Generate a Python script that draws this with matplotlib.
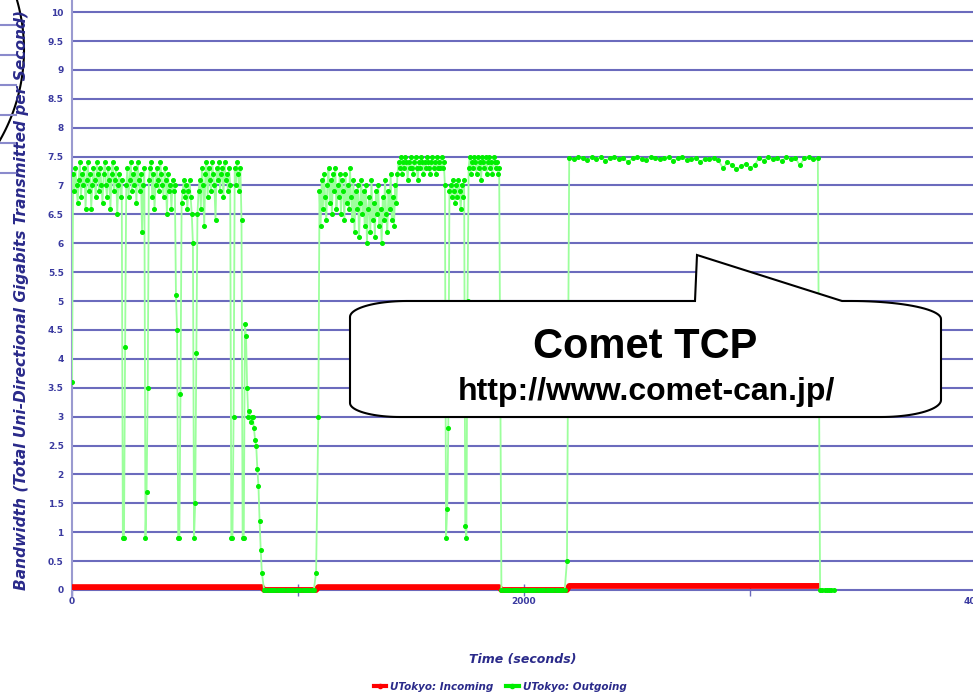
import numpy as np
import matplotlib
matplotlib.use('Agg')
import matplotlib.pyplot as plt
from matplotlib.patches import Polygon
from matplotlib.lines import Line2D

# outgoing bandwidth (Gb/s); seg1/seg2 every 5 s, gaps every 10 s, seg3 every 20 s
seg1 = [3.6, 7.2, 6.9, 7.3, 7.0, 6.7, 7.1, 7.4, 6.8, 7.2,
        7.0, 7.3, 6.6, 7.1, 7.4, 6.9, 7.2, 6.6, 7.0, 7.3,
        7.1, 6.8, 7.4, 7.2, 6.9, 7.3, 7.0, 6.7, 7.2, 7.4,
        7.0, 6.8, 7.3, 7.1, 6.6, 7.2, 7.4, 6.9, 7.1, 7.3,
        6.5, 7.0, 7.2, 6.8, 7.1, 0.9, 0.9, 4.2, 7.0, 7.3,
        6.8, 7.1, 7.4, 6.9, 7.2, 7.0, 7.3, 6.7, 7.4, 7.1,
        6.9, 7.2, 6.2, 7.0, 7.3, 0.9, 1.7, 3.5, 7.1, 7.3,
        7.4, 6.8, 7.2, 6.6, 7.0, 7.3, 7.1, 6.9, 7.4, 7.2,
        7.0, 6.8, 7.3, 7.1, 6.5, 7.2, 6.9, 7.0, 6.6, 7.1,
        6.9, 7.0, 5.1, 4.5, 0.9, 0.9, 3.4, 6.7, 6.9, 7.1,
        6.8, 7.0, 6.6, 6.9, 7.1, 6.8, 6.5, 6.0, 0.9, 1.5,
        4.1, 6.5, 6.9, 7.1, 6.6, 7.3, 7.0, 6.3, 7.2, 7.4,
        6.8, 7.3, 7.1, 6.9, 7.4, 7.2, 7.0, 6.4, 7.3, 7.1,
        7.4, 6.9, 7.2, 7.3, 6.8, 7.4, 7.1, 7.2, 6.9, 7.3,
        7.0, 0.9, 0.9, 3.0, 7.3, 7.0, 7.4, 7.2, 6.9, 7.3,
        6.4, 0.9, 0.9, 4.6, 4.4, 3.5, 3.0, 3.1, 2.9, 3.0,
        3.0, 2.8, 2.6, 2.5, 2.1, 1.8, 1.2, 0.7, 0.3]
gap1 = [0.0, 0.0, 0.0, 0.0, 0.0, 0.0, 0.0, 0.0, 0.0, 0.0, 0.0, 0.0,
        0.0, 0.0, 0.0, 0.0, 0.0, 0.0, 0.0, 0.0, 0.0, 0.0, 0.0, 0.3]
seg2 = [3.0, 6.9, 6.3, 7.1, 6.6, 7.2, 6.8, 6.4, 7.0, 7.3,
        6.7, 7.1, 6.5, 7.2, 6.9, 7.3, 6.6, 7.0, 6.8, 7.2,
        6.5, 7.1, 6.9, 6.4, 7.2, 6.7, 7.0, 6.6, 7.3, 6.8,
        6.4, 7.1, 6.2, 6.9, 6.6, 7.0, 6.1, 6.7, 7.1, 6.5,
        6.9, 6.3, 7.0, 6.0, 6.6, 6.8, 6.2, 7.1, 6.4, 6.7,
        6.1, 6.9, 6.5, 7.0, 6.3, 6.6, 6.0, 6.8, 6.4, 7.1,
        6.5, 6.2, 6.9, 6.6, 7.2, 6.4, 6.8, 6.3, 7.0, 6.7,
        7.2, 7.4, 7.3, 7.5, 7.2, 7.4, 7.3, 7.5, 7.4, 7.1,
        7.4, 7.3, 7.5, 7.3, 7.2, 7.4, 7.5, 7.3, 7.1, 7.4,
        7.3, 7.5, 7.4, 7.2, 7.4, 7.3, 7.5, 7.4, 7.3, 7.2,
        7.4, 7.5, 7.3, 7.4, 7.2, 7.5, 7.3, 7.4, 7.3, 7.5,
        7.3, 7.4, 7.0, 0.9, 1.4, 2.8, 6.9, 7.0, 6.8, 7.1,
        6.9, 6.7, 7.0, 6.8, 7.1, 6.9, 6.6, 7.0, 6.8, 7.1,
        1.1, 0.9, 5.0, 7.3, 7.5, 7.2, 7.4, 7.3, 7.5, 7.4,
        7.2, 7.5, 7.3, 7.4, 7.1, 7.5, 7.4, 7.3, 7.5, 7.2,
        7.4, 7.5, 7.3, 7.4, 7.2, 7.5, 7.4, 7.3, 7.4, 7.2,
        7.3]
gap2 = [0.0, 0.0, 0.0, 0.0, 0.0, 0.0, 0.0, 0.0, 0.0, 0.0,
        0.0, 0.0, 0.0, 0.0, 0.0, 0.0, 0.0, 0.0, 0.0, 0.0,
        0.0, 0.0, 0.0, 0.0, 0.0, 0.0, 0.0, 0.0, 0.0, 0.5]
seg3 = [7.48, 7.45, 7.5, 7.47, 7.44, 7.49, 7.46, 7.5, 7.43, 7.47,
        7.49, 7.45, 7.48, 7.4, 7.47, 7.5, 7.46, 7.44, 7.49, 7.47,
        7.45, 7.48, 7.5, 7.42, 7.47, 7.49, 7.44, 7.46, 7.48, 7.41,
        7.46, 7.45, 7.47, 7.44, 7.3, 7.4, 7.36, 7.28, 7.33, 7.38,
        7.3, 7.35, 7.48, 7.43, 7.5, 7.45, 7.47, 7.42, 7.49, 7.46,
        7.48, 7.35, 7.47, 7.5, 7.45, 7.48]
tail = [0.0, 0.0, 0.0, 0.0, 0.0, 0.0, 0.0]

seg_start = [0, 850, 1090, 1900, 2200, 3310]
seg_step = [5, 10, 5, 10, 20, 10]
out_segs = [seg1, gap1, seg2, gap2, seg3, tail]

# incoming bandwidth
in_t = [0, 840, 850, 1080, 1090, 1890, 1900, 2190, 2200, 3310]
in_v = [0.05, 0.05, 0.0, 0.0, 0.05, 0.05, 0.0, 0.0, 0.07, 0.07]

out_t = np.concatenate([s + d * np.arange(len(v)) for s, d, v in zip(seg_start, seg_step, out_segs)])
out_v = np.concatenate(out_segs)

W, H = 973, 696
def fx(px): return px / W
def fy(py): return 1 - py / H

blue = '#6b6bbd'
txtblue = '#3a3aa0'

fig = plt.figure(figsize=(9.73, 6.96), dpi=100)
ax = fig.add_axes([fx(72), fy(596), (978.3 - 72) / W, 596 / H])
ax.set_xlim(0, 4010)
ax.set_ylim(-0.104, 10.21)

ax.plot(in_t, in_v, color='#ff0000', lw=4.2, solid_capstyle='butt', zorder=3)
ax.plot(out_t, out_v, color='#9cff9c', lw=1.3, zorder=4)
ax.plot(out_t, out_v, ls='none', marker='o', ms=2.6, mfc='#00ee00', mec='#00ee00', zorder=5)

for s in ['top', 'right', 'bottom']:
    ax.spines[s].set_visible(False)
ax.spines['left'].set_color('#9a9ad0')
ax.spines['left'].set_linewidth(1.5)

ax.set_yticks(np.arange(0, 10.01, 0.5))
ax.set_yticklabels(['0', '0.5', '1', '1.5', '2', '2.5', '3', '3.5', '4', '4.5', '5', '5.5',
                    '6', '6.5', '7', '7.5', '8', '8.5', '9', '9.5', '10'])
ax.tick_params(axis='y', length=0, pad=6, labelsize=6.5, labelcolor=txtblue)
ax.grid(axis='y', color=blue, lw=1.5, zorder=1)
ax.set_axisbelow(True)

ax.set_xticks([0, 1000, 2000, 3000, 4000])
ax.set_xticklabels(['0', '', '2000', '', '4000'])
ax.tick_params(axis='x', direction='in', length=9, width=1, color=blue, pad=1,
               labelsize=6.5, labelcolor=txtblue)
for lab in ax.get_xticklabels() + ax.get_yticklabels():
    lab.set_fontweight('bold')

fig.text(fx(22), fy(590), 'Bandwidth (Total Uni-Directional Gigabits Transmitted per Second)',
         rotation=90, ha='center', va='bottom', fontsize=11.1, fontweight='bold',
         fontstyle='italic', color='#2a2a8a')
fig.text(fx(523), fy(660), 'Time (seconds)', ha='center', va='center', fontsize=9,
         fontweight='bold', fontstyle='italic', color='#2a2a8a')

handles = [Line2D([], [], color='#ff0000', lw=3, marker='o', ms=3),
           Line2D([], [], color='#00ee00', lw=3, marker='o', ms=3)]
fig.legend(handles, ['UTokyo: Incoming', 'UTokyo: Outgoing'], loc='center',
           bbox_to_anchor=(fx(500), fy(687)), ncol=2, frameon=False, handlelength=1.2,
           handletextpad=0.4, columnspacing=1.2,
           prop={'size': 7.5, 'weight': 'bold', 'style': 'italic'}, labelcolor='#2a2a8a')

# callout bubble
def arc(cx, cy, rx, ry, a0, a1, n=24):
    a = np.radians(np.linspace(a0, a1, n))
    return list(zip(cx + rx * np.cos(a), cy - ry * np.sin(a)))

pts = [(695, 301), (697, 255), (842, 301)]
pts += arc(851, 319, 90, 18, 90, 0)
pts += arc(881, 400, 60, 17, 0, -90)
pts += arc(400, 403, 50, 14, -90, -180)
pts += arc(407, 317, 57, 16, 180, 90)
pts = [(fx(x), fy(y)) for x, y in pts]
fig.add_artist(Polygon(pts, closed=True, facecolor='white', edgecolor='black', lw=1.5,
                       transform=fig.transFigure, zorder=10))
fig.text(fx(645), fy(358), 'Comet TCP', ha='center', va='baseline', fontsize=30,
         fontweight='bold', family='Liberation Sans', zorder=11)
fig.text(fx(646), fy(400), 'http://www.comet-can.jp/', ha='center', va='baseline', fontsize=23,
         fontweight='bold', family='Liberation Sans', zorder=11)

# slide decoration at top left
a = np.radians(np.linspace(-40, 20, 60))
cx, cy, r = -157, 50, 181
fig.add_artist(Line2D(fx(cx + r * np.cos(a)), fy(cy - r * np.sin(a)), color='black', lw=1.5,
                      transform=fig.transFigure))
for py in [25, 55, 85, 115, 143, 173]:
    fig.add_artist(Line2D([0, fx(16)], [fy(py), fy(py)], color='#8a8acc', lw=1.5,
                          transform=fig.transFigure))

fig.savefig('out.png', dpi=100)
